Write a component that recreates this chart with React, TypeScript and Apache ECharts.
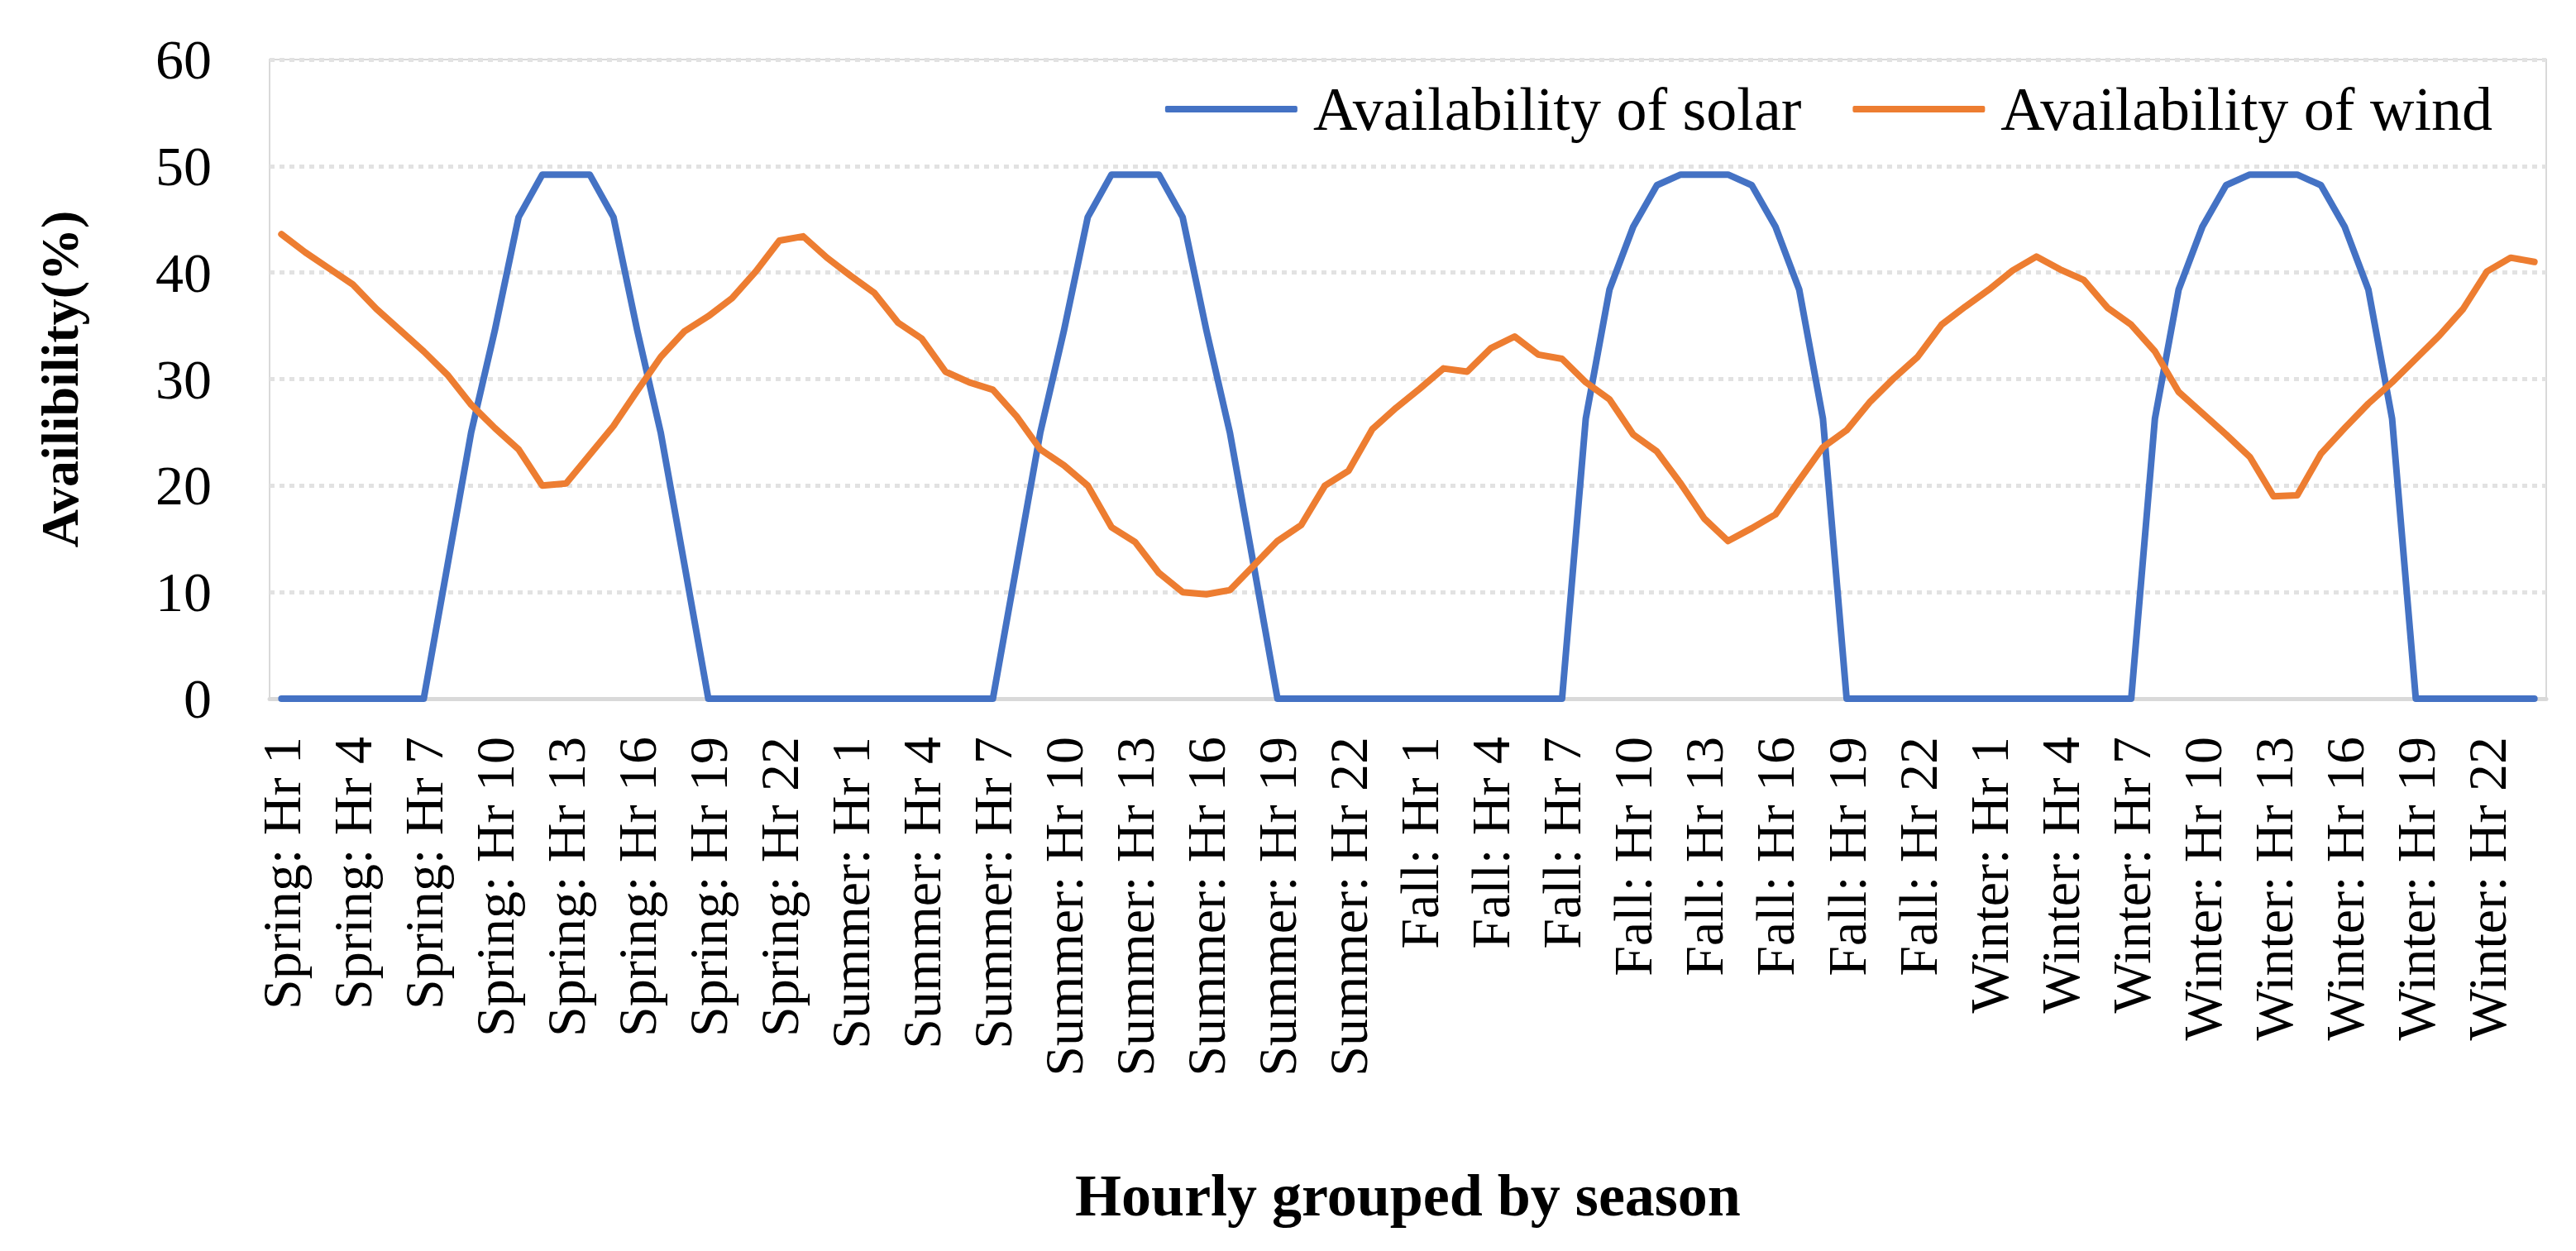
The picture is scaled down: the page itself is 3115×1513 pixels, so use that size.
import React, { useEffect, useRef } from "react";
import * as echarts from "echarts";

const seasons = ["Spring", "Summer", "Fall", "Winter"];
const hours = [
  1, 2, 3, 4, 5, 6, 7, 8, 9, 10, 11, 12, 13, 14, 15, 16, 17, 18, 19, 20, 21, 22, 23, 24,
];
const categories = seasons.flatMap((s) => hours.map((h) => `${s}: Hr ${h}`));

// Availability of solar (%), 24 values per season
const solarSpring = [
  0, 0, 0, 0, 0, 0, 0, 12.5, 25, 34.6, 45.2, 49.2, 49.2, 49.2, 45.2, 34.6, 24.9, 12.5,
  0, 0, 0, 0, 0, 0,
];
const solarSummer = [
  0, 0, 0, 0, 0, 0, 0, 12.5, 25, 34.6, 45.2, 49.2, 49.2, 49.2, 45.2, 34.6, 24.9, 12.5,
  0, 0, 0, 0, 0, 0,
];
const solarFall = [
  0, 0, 0, 0, 0, 0, 0, 26.3, 38.4, 44.3, 48.2, 49.2, 49.2, 49.2, 48.2, 44.3, 38.4, 26.3,
  0, 0, 0, 0, 0, 0,
];
const solarWinter = [
  0, 0, 0, 0, 0, 0, 0, 26.3, 38.4, 44.3, 48.2, 49.2, 49.2, 49.2, 48.2, 44.3, 38.4, 26.3,
  0, 0, 0, 0, 0, 0,
];

// Availability of wind (%), 24 values per season
const windSpring = [
  43.6, 41.9, 40.4, 38.9, 36.6, 34.6, 32.6, 30.4, 27.6, 25.4, 23.4, 20.0, 20.2, 22.9,
  25.6, 28.9, 32.1, 34.5, 35.9, 37.6, 40.1, 43.0, 43.4, 41.4,
];
const windSummer = [
  39.7, 38.1, 35.3, 33.8, 30.7, 29.7, 29.0, 26.5, 23.4, 21.9, 20.0, 16.1, 14.7, 11.8,
  10.0, 9.8, 10.2, 12.5, 14.8, 16.3, 20.0, 21.4, 25.3, 27.3,
];
const windFall = [
  29.1, 31.0, 30.7, 32.9, 34.0, 32.3, 31.9, 29.7, 28.1, 24.8, 23.2, 20.2, 16.9, 14.8,
  16.0, 17.3, 20.5, 23.6, 25.2, 27.9, 30.1, 32.1, 35.1, 36.8,
];
const windWinter = [
  38.4, 40.2, 41.5, 40.3, 39.3, 36.7, 35.1, 32.6, 28.8, 26.8, 24.8, 22.7, 19.0, 19.1,
  23.0, 25.4, 27.7, 29.7, 31.9, 34.1, 36.6, 40.1, 41.4, 41.0,
];

const solar = [...solarSpring, ...solarSummer, ...solarFall, ...solarWinter];
const wind = [...windSpring, ...windSummer, ...windFall, ...windWinter];

const yTicks = [0, 10, 20, 30, 40, 50, 60];

const FONT = "'Liberation Serif', 'Times New Roman', serif";

const App: React.FC = () => {
  const chartRef = useRef<HTMLDivElement>(null);

  useEffect(() => {
    if (!chartRef.current) return;
    const chart = echarts.init(chartRef.current, undefined, { renderer: "svg" });

    const option: echarts.EChartsOption = {
      animation: false,
      backgroundColor: "#ffffff",
      textStyle: { fontFamily: FONT },
      grid: {
        left: 326,
        right: 36,
        top: 72,
        height: 773,
        containLabel: false,
        show: true,
        borderColor: "#d9d9d9",
        borderWidth: 2,
      },
      legend: {
        data: ["Availability of solar", "Availability of wind"],
        right: 96,
        top: 90,
        icon: "roundRect",
        itemWidth: 160,
        itemHeight: 8,
        itemGap: 62,
        textStyle: {
          fontFamily: FONT,
          fontSize: 74,
          color: "#000000",
          padding: [0, 0, 0, 14],
        },
      },
      xAxis: {
        type: "category",
        data: categories,
        boundaryGap: true,
        name: "Hourly grouped by season",
        nameLocation: "middle",
        nameGap: 565,
        nameTextStyle: {
          fontFamily: FONT,
          fontSize: 72,
          fontWeight: "bold",
          color: "#000000",
        },
        axisLine: { lineStyle: { color: "#d9d9d9", width: 5 } },
        axisTick: { show: false },
        axisLabel: {
          interval: 2,
          rotate: 90,
          margin: 46,
          fontFamily: FONT,
          fontSize: 66,
          color: "#000000",
        },
      },
      yAxis: {
        type: "value",
        min: yTicks[0],
        max: yTicks[yTicks.length - 1],
        interval: 10,
        name: "Availibility(%)",
        nameLocation: "middle",
        nameGap: 222,
        nameTextStyle: {
          fontFamily: FONT,
          fontSize: 64,
          fontWeight: "bold",
          color: "#000000",
        },
        axisLine: { show: false },
        axisTick: { show: false },
        axisLabel: {
          margin: 70,
          fontFamily: FONT,
          fontSize: 68,
          color: "#000000",
        },
        splitLine: {
          lineStyle: { color: "#e2e2e2", width: 5, type: [6, 6] },
        },
      },
      series: [
        {
          name: "Availability of solar",
          type: "line",
          data: solar,
          symbol: "none",
          color: "#4472C4",
          lineStyle: { width: 8, color: "#4472C4", cap: "round", join: "round" },
        },
        {
          name: "Availability of wind",
          type: "line",
          data: wind,
          symbol: "none",
          color: "#ED7D31",
          lineStyle: { width: 8, color: "#ED7D31", cap: "round", join: "round" },
        },
      ],
    };

    chart.setOption(option);

    return () => {
      chart.dispose();
    };
  }, []);

  return (
    <div
      ref={chartRef}
      style={{ position: "absolute", left: 0, top: 0, width: 3115, height: 1513 }}
    />
  );
};

export default App;
